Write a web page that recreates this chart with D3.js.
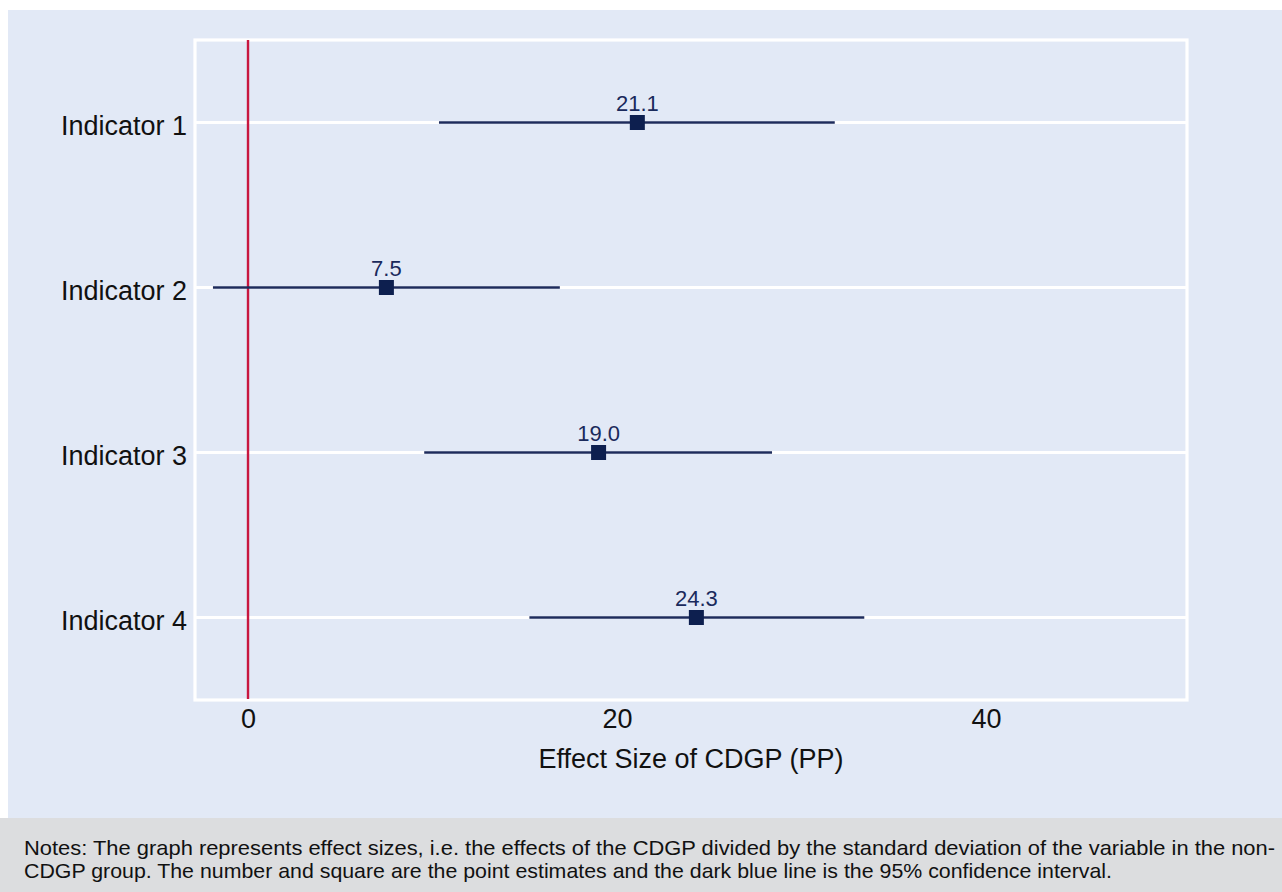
<!DOCTYPE html>
<html>
<head>
<meta charset="utf-8">
<script src="https://cdn.jsdelivr.net/npm/d3@7"></script>
<style>
  html, body { margin: 0; padding: 0; background: #ffffff; }
  svg { display: block; }
</style>
</head>
<body>
<svg id="chart" width="1282" height="892"></svg>
<script>
// ---- Data ----
const categories = ["Indicator 1", "Indicator 2", "Indicator 3", "Indicator 4"];
const estimates = [21.1, 7.5, 19.0, 24.3];
const estimateLabels = ["21.1", "7.5", "19.0", "24.3"];
const ciLow = [10.35, -1.9, 9.55, 15.25];
const ciHigh = [31.8, 16.9, 28.4, 33.4];
const xTicks = [0, 20, 40];
const xTitle = "Effect Size of CDGP (PP)";
const notesLines = [
  "Notes: The graph represents effect sizes, i.e. the effects of the CDGP divided by the standard deviation of the variable in the non-",
  "CDGP group. The number and square are the point estimates and the dark blue line is the 95% confidence interval."
];

// ---- Layout ----
const svg = d3.select("#chart");
const W = 1282, H = 892;
const plot = { left: 195, right: 1187, top: 40, bottom: 700 };
const font = "'Liberation Sans', Arial, Helvetica, sans-serif";

const x = d3.scaleLinear().domain([-2.873, 50.89]).range([plot.left, plot.right]);
const y = d3.scaleLinear().domain([0.5, 4.5]).range([plot.top, plot.bottom]);
const rows = categories.map((c, i) => ({
  cat: c, pos: i + 1, est: estimates[i], lab: estimateLabels[i], lo: ciLow[i], hi: ciHigh[i]
}));

// backgrounds
svg.append("rect").attr("x", 0).attr("y", 0).attr("width", W).attr("height", H).attr("fill", "#ffffff");
svg.append("rect").attr("x", 8).attr("y", 10).attr("width", W - 8).attr("height", 808).attr("fill", "#e2e9f6");
svg.append("rect").attr("x", 0).attr("y", 818).attr("width", W).attr("height", H - 818).attr("fill", "#dcdddf");

// gridlines
svg.append("g").selectAll("line").data(rows).join("line")
  .attr("x1", plot.left).attr("x2", plot.right)
  .attr("y1", d => y(d.pos)).attr("y2", d => y(d.pos))
  .attr("stroke", "#ffffff").attr("stroke-width", 3);

// frame
svg.append("rect")
  .attr("x", plot.left).attr("y", plot.top)
  .attr("width", plot.right - plot.left).attr("height", plot.bottom - plot.top)
  .attr("fill", "none").attr("stroke", "#ffffff").attr("stroke-width", 3.2);

// zero reference line
svg.append("line")
  .attr("x1", x(0)).attr("x2", x(0))
  .attr("y1", plot.top).attr("y2", plot.bottom - 1)
  .attr("stroke", "#c8173f").attr("stroke-width", 2.4);

// CI lines
svg.append("g").selectAll("line").data(rows).join("line")
  .attr("x1", d => x(d.lo)).attr("x2", d => x(d.hi))
  .attr("y1", d => y(d.pos)).attr("y2", d => y(d.pos))
  .attr("stroke", "#1d2b5c").attr("stroke-width", 2.5);

// squares
const sq = 15;
svg.append("g").selectAll("rect").data(rows).join("rect")
  .attr("x", d => x(d.est) - sq / 2).attr("y", d => y(d.pos) - sq / 2)
  .attr("width", sq).attr("height", sq)
  .attr("fill", "#0d1f4f");

// estimate labels
svg.append("g").selectAll("text").data(rows).join("text")
  .attr("x", d => x(d.est)).attr("y", d => y(d.pos) - 11.5)
  .attr("text-anchor", "middle")
  .attr("font-family", font).attr("font-size", 22)
  .attr("fill", "#1a2a5c")
  .text(d => d.lab);

// x axis
const xAxis = svg.append("g")
  .attr("transform", `translate(0,${plot.bottom})`)
  .call(d3.axisBottom(x).tickValues(xTicks).tickSize(0).tickFormat(d3.format("d")));
xAxis.select(".domain").remove();
xAxis.selectAll("text")
  .attr("y", 28).attr("dy", null)
  .attr("font-family", font).attr("font-size", 27).attr("fill", "#111111");

// y axis labels
const yAxis = svg.append("g")
  .attr("transform", `translate(${plot.left},0)`)
  .call(d3.axisLeft(y).tickValues(rows.map(d => d.pos)).tickSize(0)
    .tickFormat((d, i) => categories[i]));
yAxis.select(".domain").remove();
yAxis.selectAll("text")
  .attr("x", -8).attr("dy", null).attr("y", 12)
  .attr("font-family", font).attr("font-size", 27).attr("fill", "#111111");

// x title
svg.append("text")
  .attr("x", (plot.left + plot.right) / 2).attr("y", 768)
  .attr("text-anchor", "middle")
  .attr("font-family", font).attr("font-size", 27).attr("fill", "#111111")
  .text(xTitle);

// notes
const notesX = 24;
const notesWidths = [1251, 1088];
const notesY = [855, 878];
svg.append("g").selectAll("text").data(notesLines).join("text")
  .attr("x", notesX).attr("y", (d, i) => notesY[i])
  .attr("textLength", (d, i) => notesWidths[i])
  .attr("lengthAdjust", "spacingAndGlyphs")
  .attr("font-family", "'Liberation Sans Narrow', 'Arial Narrow', 'Liberation Sans', Arial, sans-serif")
  .attr("font-size", 21).attr("fill", "#111111")
  .text(d => d);
</script>
</body>
</html>
